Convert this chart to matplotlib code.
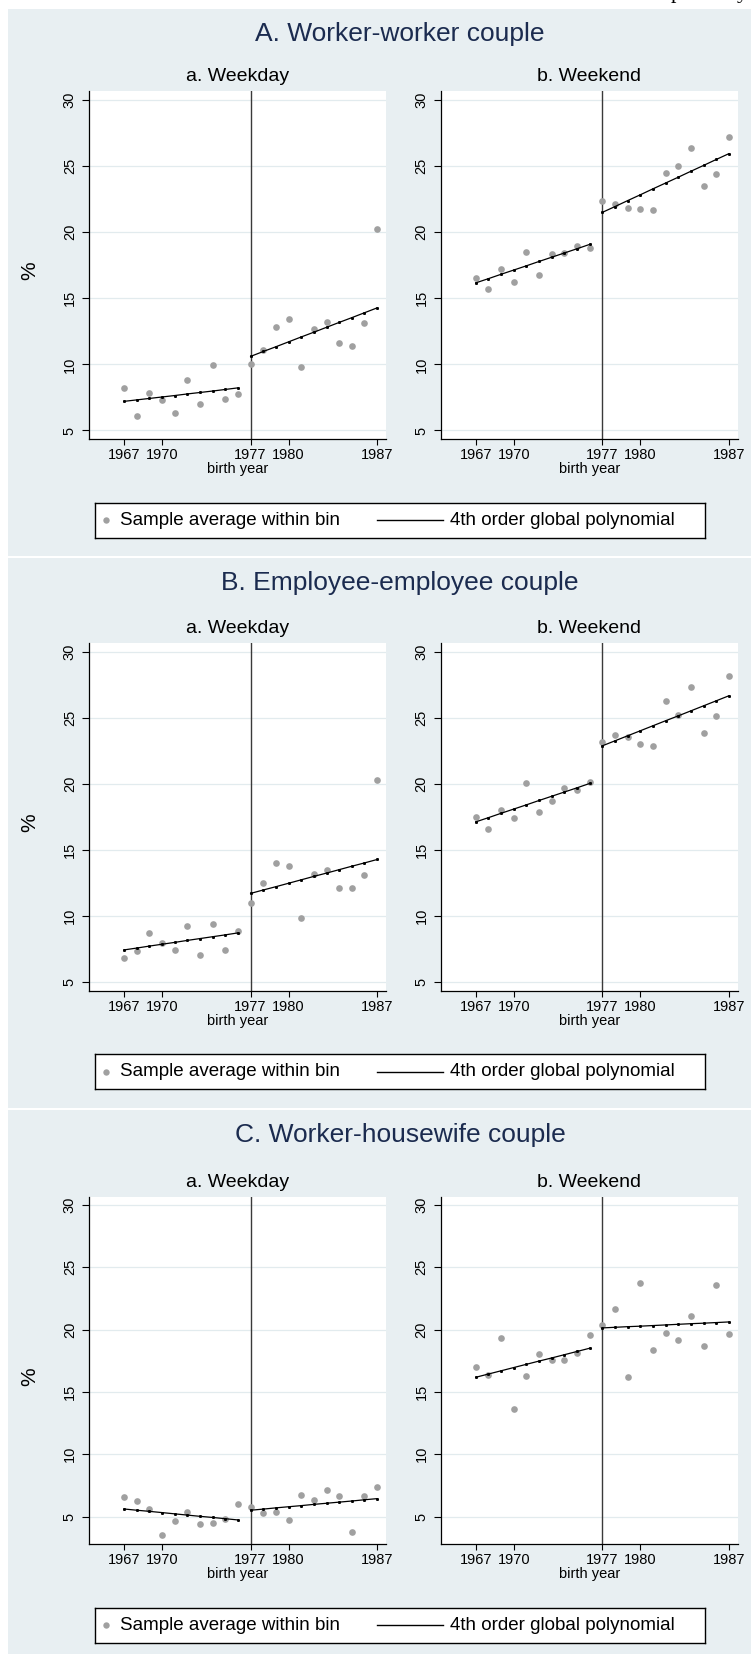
import matplotlib
matplotlib.use("Agg")
import matplotlib.pyplot as plt
from matplotlib.patches import Rectangle

plt.rcParams['font.family'] = ['Liberation Sans', 'DejaVu Sans']

# birth-year bins on each side of the 1977 cutoff
years_pre = [1967, 1968, 1969, 1970, 1971, 1972, 1973, 1974, 1975, 1976]
years_post = [1977, 1978, 1979, 1980, 1981, 1982, 1983, 1984, 1985, 1986, 1987]

# A. worker-worker couple
a_wd_pre = [8.23, 6.08, 7.86, 7.30, 6.32, 8.81, 7.00, 9.95, 7.35, 7.73]
a_wd_post = [10.02, 11.11, 12.86, 13.39, 9.80, 12.70, 13.18, 11.64, 11.42, 13.11, 20.20]
a_wd_fit_pre = [7.20, 7.31, 7.42, 7.53, 7.64, 7.76, 7.87, 7.98, 8.10, 8.22]
a_wd_fit_post = [10.60, 10.97, 11.33, 11.70, 12.07, 12.43, 12.80, 13.17, 13.53, 13.90, 14.27]
a_we_pre = [16.52, 15.71, 17.20, 16.24, 18.51, 16.77, 18.31, 18.39, 18.94, 18.81]
a_we_post = [22.37, 22.12, 21.79, 21.74, 21.64, 24.50, 24.98, 26.39, 23.46, 24.37, 27.17]
a_we_fit_pre = [16.16, 16.48, 16.81, 17.13, 17.45, 17.78, 18.10, 18.42, 18.74, 19.07]
a_we_fit_post = [21.49, 21.93, 22.38, 22.82, 23.27, 23.71, 24.15, 24.60, 25.04, 25.49, 25.93]

# B. employee-employee couple
b_wd_pre = [6.82, 7.33, 8.67, 7.93, 7.42, 9.20, 7.05, 9.42, 7.42, 8.86]
b_wd_post = [10.96, 12.48, 13.97, 13.77, 9.85, 13.16, 13.46, 12.12, 12.12, 13.08, 20.30]
b_wd_fit_pre = [7.42, 7.56, 7.71, 7.85, 7.99, 8.14, 8.28, 8.42, 8.56, 8.71]
b_wd_fit_post = [11.70, 11.96, 12.21, 12.47, 12.73, 12.99, 13.24, 13.50, 13.76, 14.01, 14.27]
b_we_pre = [17.50, 16.57, 18.03, 17.38, 20.08, 17.88, 18.71, 19.67, 19.52, 20.15]
b_we_post = [23.18, 23.69, 23.56, 23.03, 22.88, 26.29, 25.23, 27.35, 23.84, 25.15, 28.18]
b_we_fit_pre = [17.12, 17.44, 17.77, 18.09, 18.41, 18.74, 19.06, 19.38, 19.70, 20.03]
b_we_fit_post = [22.88, 23.26, 23.64, 24.02, 24.40, 24.78, 25.15, 25.53, 25.91, 26.29, 26.67]

# C. worker-housewife couple
c_wd_pre = [6.57, 6.28, 5.64, 3.52, 4.65, 5.37, 4.38, 4.46, 4.78, 6.04]
c_wd_post = [5.80, 5.26, 5.40, 4.70, 6.77, 6.31, 7.13, 6.69, 3.74, 6.63, 7.38]
c_wd_fit_pre = [5.61, 5.51, 5.42, 5.32, 5.22, 5.12, 5.02, 4.93, 4.83, 4.73]
c_wd_fit_post = [5.51, 5.60, 5.70, 5.79, 5.88, 5.98, 6.07, 6.16, 6.25, 6.35, 6.44]
c_we_pre = [17.03, 16.39, 19.33, 13.64, 16.29, 18.03, 17.57, 17.55, 18.16, 19.57]
c_we_post = [20.40, 21.64, 16.18, 23.74, 18.40, 19.71, 19.15, 21.10, 18.69, 23.56, 19.63]
c_we_fit_pre = [16.18, 16.44, 16.70, 16.96, 17.22, 17.48, 17.73, 17.99, 18.25, 18.51]
c_we_fit_post = [20.14, 20.19, 20.24, 20.28, 20.33, 20.38, 20.43, 20.48, 20.52, 20.57, 20.62]

panel_titles = ["A. Worker-worker couple", "B. Employee-employee couple", "C. Worker-housewife couple"]
sub_titles = ["a. Weekday", "b. Weekend"]
xticks = [1967, 1970, 1977, 1980, 1987]
yticks = [5, 10, 15, 20, 25, 30]
cutoff = 1977
leg_labels = ["Sample average within bin", "4th order global polynomial"]

panels = [
    [(a_wd_pre, a_wd_post, a_wd_fit_pre, a_wd_fit_post), (a_we_pre, a_we_post, a_we_fit_pre, a_we_fit_post)],
    [(b_wd_pre, b_wd_post, b_wd_fit_pre, b_wd_fit_post), (b_we_pre, b_we_post, b_we_fit_pre, b_we_fit_post)],
    [(c_wd_pre, c_wd_post, c_wd_fit_pre, c_wd_fit_post), (c_we_pre, c_we_post, c_we_fit_pre, c_we_fit_post)],
]
ylims = [(4.33, 30.67), (4.33, 30.67), (2.8, 30.67)]

# page layout in pixels: background top/bottom, plot top/bottom
W, H = 753, 1654
layout = [(9, 556, 91, 439.3), (558, 1108, 643, 990.7), (1110, 1654, 1196.7, 1544)]
cols = [(89.3, 386), (441, 737.7)]

BG = "#e8eff2"
NAVY = "#1b2b4f"
DOT = "#a0a0a0"


def rect(x0, y0, x1, y1):
    return [x0 / W, 1 - y1 / H, (x1 - x0) / W, (y1 - y0) / H]


fig = plt.figure(figsize=(W / 100, H / 100), dpi=100)
fig.patch.set_facecolor("white")

# cut-off line of body text above the figure
fig.text(671 / W, 1 + 1.5 / H, "probably", family=["Liberation Serif", "DejaVu Serif"],
         fontsize=15.8, ha="left", va="baseline", color="black")

for p, (bg_top, bg_bot, ax_top, ax_bot) in enumerate(layout):
    fig.patches.append(Rectangle((8 / W, 1 - bg_bot / H), (751 - 8) / W, (bg_bot - bg_top) / H,
                                 transform=fig.transFigure, facecolor=BG, edgecolor="none", zorder=-5))
    fig.text(400 / W, 1 - (bg_top + 25) / H, panel_titles[p], fontsize=19, color=NAVY,
             ha="center", va="center")
    # shared y title for the row
    fig.text(30 / W, 1 - ((ax_top + ax_bot) / 2 + 6) / H, "%", fontsize=15,
             rotation=90, ha="center", va="center")

    for c, (x0, x1) in enumerate(cols):
        pre, post, fit_pre, fit_post = panels[p][c]
        ax = fig.add_axes(rect(x0, ax_top, x1, ax_bot))
        ax.set_facecolor("white")
        ax.set_xlim(1964.25, 1987.7)
        ax.set_ylim(*ylims[p])
        for yv in yticks:
            ax.axhline(yv, color="#e2ebee", lw=0.9, zorder=0)
        ax.axvline(cutoff, color="#3a3a3a", lw=1.0, zorder=1)
        ax.plot(years_pre, pre, "o", color=DOT, ms=4.8, mec="none", zorder=2)
        ax.plot(years_post, post, "o", color=DOT, ms=4.8, mec="none", zorder=2)
        ax.plot(years_pre, fit_pre, "-", color="black", lw=0.9, marker="s", ms=1.1, zorder=3)
        ax.plot(years_post, fit_post, "-", color="black", lw=0.9, marker="s", ms=1.1, zorder=3)

        for side in ["top", "right"]:
            ax.spines[side].set_visible(False)
        for side in ["left", "bottom"]:
            ax.spines[side].set_linewidth(0.9)
            ax.spines[side].set_color("black")

        ax.set_xticks(xticks)
        ax.set_yticks(yticks)
        ax.tick_params(axis="x", length=4, width=0.8, labelsize=10.5, pad=2.5)
        ax.tick_params(axis="y", length=5, width=0.8, labelsize=10.5, pad=4)
        for lab in ax.get_yticklabels():
            lab.set_rotation(90)
            lab.set_va("center")
        ax.set_xlabel("birth year", fontsize=10.5, labelpad=0)
        ax.set_title(sub_titles[c], fontsize=14, pad=7)

    # legend box under each pair of plots
    lt = ax_bot + 63.5
    lax = fig.add_axes(rect(95, lt, 705, lt + 35))
    lax.set_xlim(95, 705)
    lax.set_ylim(0, 1)
    lax.set_xticks([])
    lax.set_yticks([])
    for s in lax.spines.values():
        s.set_linewidth(1.0)
        s.set_color("black")
    lax.plot([106], [0.5], "o", color=DOT, ms=4.6, mec="none")
    lax.text(120, 0.5, leg_labels[0], fontsize=13.5, va="center", ha="left")
    lax.plot([377, 443], [0.5, 0.5], color="black", lw=1.0)
    lax.text(450, 0.5, leg_labels[1], fontsize=13.5, va="center", ha="left")

fig.savefig("out.png", dpi=100)
